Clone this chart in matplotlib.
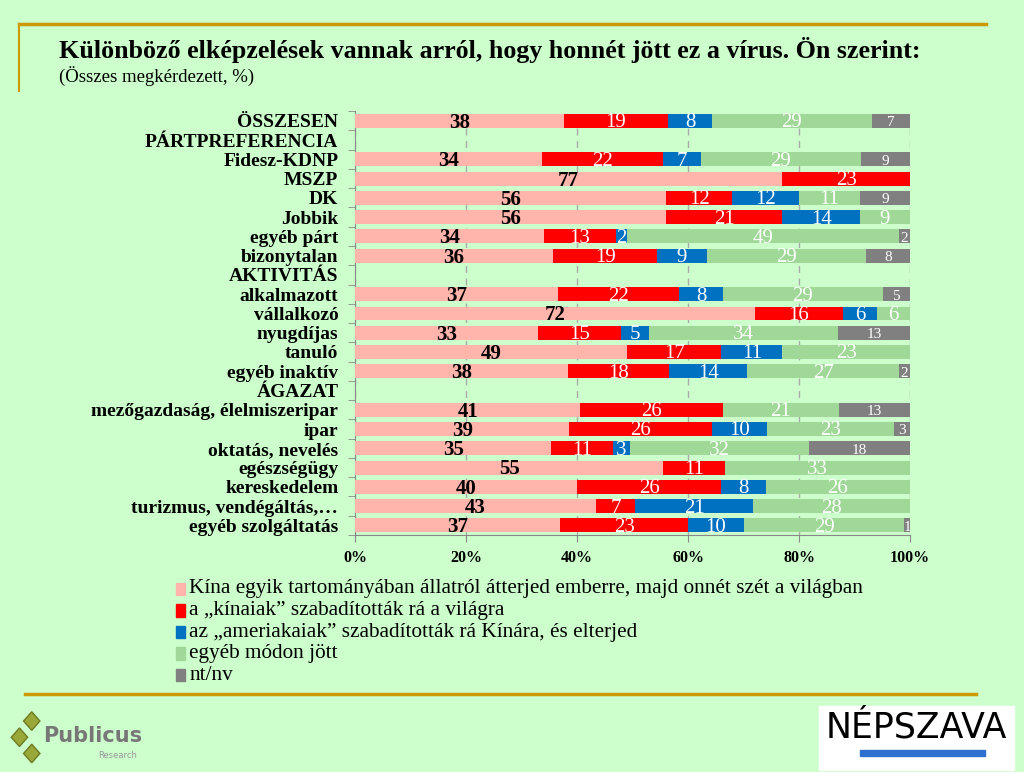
import numpy as np
import matplotlib.pyplot as plt
from matplotlib.patches import Rectangle, Polygon

# adatok
sorok = ["ÖSSZESEN", "PÁRTPREFERENCIA", "Fidesz-KDNP", "MSZP", "DK", "Jobbik",
         "egyéb párt", "bizonytalan", "AKTIVITÁS", "alkalmazott", "vállalkozó",
         "nyugdíjas", "tanuló", "egyéb inaktív", "ÁGAZAT",
         "mezőgazdaság, élelmiszeripar", "ipar", "oktatás, nevelés",
         "egészségügy", "kereskedelem", "turizmus, vendégáltás,…",
         "egyéb szolgáltatás"]

kina_allat = [38, 0, 34, 77, 56, 56, 34, 36, 0, 37, 72, 33, 49, 38, 0, 41, 39, 35, 55, 40, 43, 37]
kinaiak = [19, 0, 22, 23, 12, 21, 13, 19, 0, 22, 16, 15, 17, 18, 0, 26, 26, 11, 11, 26, 7, 23]
amerikaiak = [8, 0, 7, 0, 12, 14, 2, 9, 0, 8, 6, 5, 11, 14, 0, 0, 10, 3, 0, 8, 21, 10]
egyeb = [29, 0, 29, 0, 11, 9, 49, 29, 0, 29, 6, 34, 23, 27, 0, 21, 23, 32, 33, 26, 28, 29]
ntnv = [7, 0, 9, 0, 9, 0, 2, 8, 0, 5, 0, 13, 0, 2, 0, 13, 3, 18, 0, 0, 0, 1]

sorozat_nevek = ["Kína egyik tartományában állatról átterjed emberre, majd onnét szét a világban",
                 "a „kínaiak” szabadították rá a világra",
                 "az „ameriakaiak” szabadították rá Kínára, és elterjed",
                 "egyéb módon jött",
                 "nt/nv"]
szinek = ["#FFB4AC", "#FF0000", "#0070C0", "#A0D898", "#808080"]
cimke_szin = ["black", "white", "white", "white", "white"]

bg = "#CCFFCC"
plt.rcParams["font.family"] = ["Liberation Serif", "DejaVu Serif"]

fig = plt.figure(figsize=(10.24, 7.72), dpi=100, facecolor=bg)
ax = fig.add_axes([0.3467, 0.307, 0.542, 0.549], facecolor=bg)

adat = np.array([kina_allat, kinaiak, amerikaiak, egyeb, ntnv], dtype=float)
osszeg = adat.sum(axis=0)
osszeg[osszeg == 0] = 1
szazalek = adat / osszeg * 100

y = np.arange(len(sorok))
bal = np.zeros(len(sorok))
for k in range(5):
    ax.barh(y, szazalek[k], left=bal, height=0.72, color=szinek[k],
            label=sorozat_nevek[k], zorder=3)
    for i in range(len(sorok)):
        v = adat[k, i]
        if v > 0:
            meret = 11 if k == 4 else 15
            suly = "bold" if k == 0 else "normal"
            ax.text(bal[i] + szazalek[k, i] / 2, y[i] + 0.1, "%d" % v,
                    ha="center", va="center", fontsize=meret, color=cimke_szin[k],
                    fontweight=suly, zorder=4)
    bal += szazalek[k]

ax.set_xlim(0, 100)
ax.set_ylim(len(sorok) - 0.5, -0.5)
ax.set_xticks([0, 20, 40, 60, 80, 100])
ax.set_xticklabels(["0%", "20%", "40%", "60%", "80%", "100%"], fontsize=11.5, fontweight="bold")
ax.set_yticks(y)
ax.set_yticklabels(sorok, fontsize=14, fontweight="bold")
ax.tick_params(axis="y", length=0, pad=12)
ax.set_yticks(np.arange(-0.5, len(sorok)), minor=True)
ax.tick_params(axis="y", which="minor", length=5, color="#888888")
ax.tick_params(axis="x", length=5, color="#888888", pad=6)
ax.grid(axis="x", color="#AAAAAA", linestyle=(0, (5, 4)), linewidth=1, zorder=0)
for s in ["top", "right"]:
    ax.spines[s].set_visible(False)
for s in ["left", "bottom"]:
    ax.spines[s].set_color("#888888")

# cím
fig.text(0.058, 0.935, "Különböző elképzelések vannak arról, hogy honnét jött ez a vírus. Ön szerint:",
         fontsize=18.7, fontweight="bold", va="center")
fig.text(0.058, 0.902, "(Összes megkérdezett, %)", fontsize=13.5, va="center")

# keretvonalak
fig.add_artist(plt.Line2D([0.019, 0.963], [0.969, 0.969], color="#CC9900", linewidth=2.5))
fig.add_artist(plt.Line2D([0.019, 0.019], [0.969, 0.882], color="#CC9900", linewidth=1.5))
fig.add_artist(plt.Line2D([0.024, 0.953], [0.101, 0.101], color="#CC9900", linewidth=2.5))

# jelmagyarázat
for k in range(5):
    yy = 1 - (589 + 21.5 * k) / 772
    fig.add_artist(Rectangle((0.172, yy - 0.008), 0.0085, 0.016, color=szinek[k],
                             transform=fig.transFigure))
    fig.text(0.185, yy, sorozat_nevek[k], fontsize=15.3, va="center")

# logók
for (cx, cy) in [(0.031, 0.066), (0.019, 0.045), (0.031, 0.024)]:
    fig.add_artist(Polygon([[cx - 0.008, cy], [cx, cy + 0.012], [cx + 0.008, cy], [cx, cy - 0.012]],
                           closed=True, facecolor="#9AA83A", edgecolor="#6E7A20",
                           transform=fig.transFigure))
fig.text(0.042, 0.047, "Publicus", fontsize=15, fontweight="bold", color="#777777",
         family="DejaVu Sans", va="center")
fig.text(0.096, 0.022, "Research", fontsize=6, color="#999999", family="DejaVu Sans", va="center")

fig.add_artist(Rectangle((0.8, 0.003), 0.19, 0.083, color="white", transform=fig.transFigure))
fig.text(0.895, 0.058, "NÉPSZAVA", fontsize=25, color="black", family="DejaVu Sans",
         ha="center", va="center")
fig.add_artist(Rectangle((0.84, 0.021), 0.122, 0.007, color="#2E6FD0", transform=fig.transFigure))

fig.savefig("out.png", dpi=100, facecolor=bg)
